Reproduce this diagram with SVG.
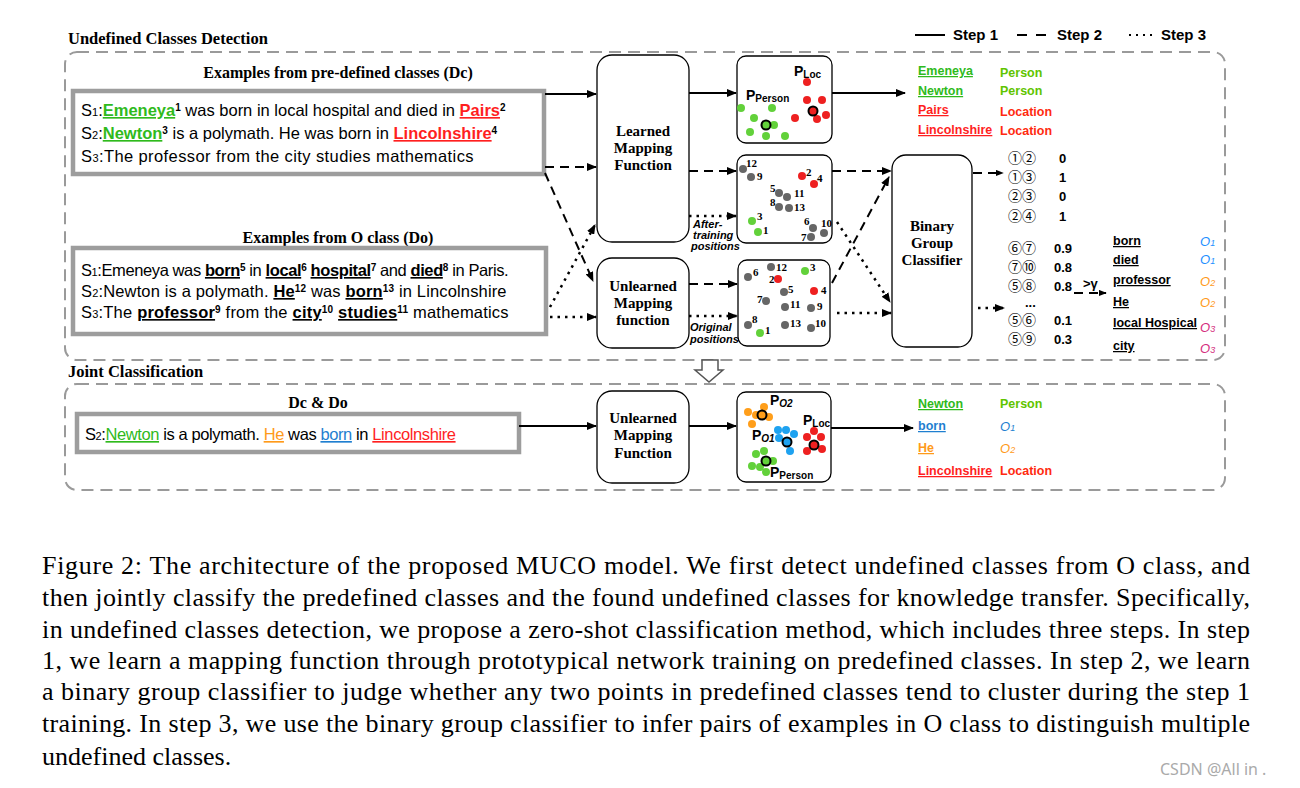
<svg xmlns="http://www.w3.org/2000/svg" width="1300" height="788" viewBox="0 0 1300 788">
<defs>
<marker id="ah" viewBox="0 0 10 8" refX="9" refY="4" markerWidth="10" markerHeight="8" markerUnits="userSpaceOnUse" orient="auto"><path d="M0,0 L10,4 L0,8 z" fill="#000"/></marker>
<marker id="ahs" viewBox="0 0 10 8" refX="9" refY="4" markerWidth="8" markerHeight="7" markerUnits="userSpaceOnUse" orient="auto"><path d="M0,0 L10,4 L0,8 z" fill="#000"/></marker>
</defs>
<style>
.frame{fill:none;stroke:#9a9a9a;stroke-width:2;stroke-dasharray:12 7}
.pencil{fill:#fff;stroke:#9d9d9d;stroke-width:4.5}
.box{fill:#fff;stroke:#000;stroke-width:1.3}
.sec{font-family:"Liberation Serif",serif;font-weight:bold;font-size:16.5px;fill:#000}
.ttl{font-family:"Liberation Serif",serif;font-weight:bold;font-size:16px;fill:#000;text-anchor:middle}
.bx{font-family:"Liberation Serif",serif;font-weight:bold;font-size:15px;fill:#000;text-anchor:middle}
.sent{font-family:"Liberation Sans",sans-serif;font-size:16.5px;fill:#000}
.sub{font-size:11px}
.sup{font-size:10px;font-weight:bold}
.bu{font-weight:bold;text-decoration:underline}
.un{text-decoration:underline}
.gr{fill:#2fba1c}
.rd{fill:#ff1f1f}
.bl{fill:#1f7fd0}
.or{fill:#ff9a1a}
.lst{font-family:"Liberation Sans",sans-serif;font-size:12.5px;font-weight:bold}
.per{fill:#5fc400}
.loc{fill:#ff2a10}
.pair{font-family:"Noto Sans CJK SC","DejaVu Sans",sans-serif;font-size:14px;fill:#000}
.val{font-family:"Liberation Sans",sans-serif;font-size:13px;font-weight:bold;fill:#000}
.wd{font-family:"Liberation Sans",sans-serif;font-size:12.5px;font-weight:bold;fill:#000;text-decoration:underline}
.ol{font-family:"Liberation Sans",sans-serif;font-size:13px;font-style:italic}
.pos{font-family:"Liberation Sans",sans-serif;font-size:11px;font-weight:bold;font-style:italic;fill:#000}
.nm{font-family:"Liberation Serif",serif;font-size:11px;font-weight:bold;fill:#000}
.pl{font-family:"Liberation Sans",sans-serif;font-size:14px;font-weight:bold;fill:#000}
.leg{font-family:"Liberation Sans",sans-serif;font-size:15px;font-weight:bold;fill:#000}
.cap{font-family:"Liberation Serif",serif;font-size:26px;fill:#000}
.g{fill:#62d13a}.r{fill:#ee2020}.k{fill:#666}.o{fill:#ff9e1a}.b{fill:#1ea2f0}
.cen{stroke:#000;stroke-width:2}
.sol{fill:none;stroke:#000;stroke-width:2}
.dsh{fill:none;stroke:#000;stroke-width:2;stroke-dasharray:9 6}
.dot{fill:none;stroke:#000;stroke-width:2.5;stroke-dasharray:2.5 5}
</style>
<rect width="1300" height="788" fill="#fff"/>

<g id="section-detection">
<text class="sec" x="68" y="44">Undefined Classes Detection</text>
<rect class="frame" x="65" y="52" width="1160" height="308" rx="12"/>
</g>

<g id="legend">
<line x1="915" y1="35" x2="945" y2="35" stroke="#000" stroke-width="2"/>
<text class="leg" x="953" y="40">Step 1</text>
<line x1="1017" y1="35" x2="1047" y2="35" stroke="#000" stroke-width="2" stroke-dasharray="10 9"/>
<text class="leg" x="1057" y="40">Step 2</text>
<line x1="1129" y1="35" x2="1156" y2="35" stroke="#000" stroke-width="2" stroke-dasharray="2 5"/>
<text class="leg" x="1161" y="40">Step 3</text>
</g>

<g id="dc-examples">
<text class="ttl" x="338" y="78">Examples from pre-defined classes (Dc)</text>
<rect class="pencil" x="73" y="91" width="471" height="83"/>
<text class="sent" x="81" y="116">S<tspan class="sub">1</tspan>:<tspan class="bu gr">Emeneya</tspan><tspan class="sup" baseline-shift="5">1</tspan> was born in local hospital and died in <tspan class="bu rd">Pairs</tspan><tspan class="sup" baseline-shift="5">2</tspan></text>
<text class="sent" x="81" y="139">S<tspan class="sub">2</tspan>:<tspan class="bu gr">Newton</tspan><tspan class="sup" baseline-shift="5">3</tspan> is a polymath. He was born in <tspan class="bu rd">Lincolnshire</tspan><tspan class="sup" baseline-shift="5">4</tspan></text>
<text class="sent" x="81" y="162" letter-spacing="0.4">S<tspan class="sub">3</tspan>:The professor from the city studies mathematics</text>
</g>

<g id="do-examples">
<text class="ttl" x="338" y="243">Examples from O class (Do)</text>
<rect class="pencil" x="73" y="248" width="473" height="86"/>
<text class="sent" x="81" y="276" letter-spacing="-0.4">S<tspan class="sub">1</tspan>:Emeneya was <tspan class="bu">born</tspan><tspan class="sup" baseline-shift="5">5</tspan> in <tspan class="bu">local</tspan><tspan class="sup" baseline-shift="5">6</tspan>  <tspan class="bu">hospital</tspan><tspan class="sup" baseline-shift="5">7</tspan> and <tspan class="bu">died</tspan><tspan class="sup" baseline-shift="5">8</tspan> in Paris.</text>
<text class="sent" x="81" y="297" letter-spacing="0.15">S<tspan class="sub">2</tspan>:Newton is a polymath. <tspan class="bu">He</tspan><tspan class="sup" baseline-shift="5">12</tspan> was <tspan class="bu">born</tspan><tspan class="sup" baseline-shift="5">13</tspan> in  Lincolnshire</text>
<text class="sent" x="81" y="318" letter-spacing="0.2">S<tspan class="sub">3</tspan>:The <tspan class="bu">professor</tspan><tspan class="sup" baseline-shift="5">9</tspan> from the <tspan class="bu">city</tspan><tspan class="sup" baseline-shift="5">10</tspan> <tspan class="bu">studies</tspan><tspan class="sup" baseline-shift="5">11</tspan> mathematics</text>
</g>

<g id="learned-mapping">
<rect class="box" x="597" y="55" width="92" height="187" rx="15"/>
<text class="bx" x="643" y="136">Learned</text>
<text class="bx" x="643" y="153">Mapping</text>
<text class="bx" x="643" y="170">Function</text>
</g>

<g id="unlearned-mapping">
<rect class="box" x="597" y="258" width="92" height="90" rx="15"/>
<text class="bx" x="643" y="291">Unlearned</text>
<text class="bx" x="643" y="308">Mapping</text>
<text class="bx" x="643" y="325">function</text>
</g>

<g id="scatter-step1">
<rect class="box" x="737" y="56" width="95" height="87" rx="9"/>
<text class="pl" x="794" y="76">P<tspan font-size="10" dy="2">Loc</tspan></text>
<text class="pl" x="746" y="100">P<tspan font-size="10" dy="2">Person</tspan></text>
<circle class="g" cx="741" cy="108" r="4"/><circle class="g" cx="772" cy="108" r="4"/><circle class="g" cx="754" cy="118" r="4"/>
<circle class="g" cx="774" cy="125" r="4"/><circle class="g" cx="750" cy="132" r="4"/><circle class="g" cx="766" cy="136" r="4"/><circle class="g" cx="785" cy="136" r="4"/>
<circle class="g cen" cx="766" cy="125" r="4.5"/>
<circle class="r" cx="807" cy="82" r="4"/><circle class="r" cx="807" cy="100" r="4"/><circle class="r" cx="822" cy="100" r="4"/>
<circle class="r" cx="795" cy="118" r="4"/><circle class="r" cx="826" cy="115" r="4"/><circle class="r" cx="817" cy="119" r="4"/>
<circle class="r cen" cx="813" cy="111" r="4.5"/>
</g>

<g id="scatter-after-training">
<rect class="box" x="737" y="155" width="95" height="88" rx="9"/>
<circle class="k" cx="743" cy="169" r="4"/><text class="nm" x="746" y="167">12</text>
<circle class="k" cx="751" cy="177" r="4"/><text class="nm" x="757" y="180">9</text>
<circle class="r" cx="802" cy="176" r="4"/><text class="nm" x="806" y="176">2</text>
<circle class="r" cx="814" cy="184" r="4"/><text class="nm" x="817" y="182">4</text>
<circle class="k" cx="779" cy="193" r="4"/><text class="nm" x="770" y="192">5</text>
<circle class="k" cx="787" cy="197" r="4"/><text class="nm" x="794" y="197">11</text>
<circle class="k" cx="779" cy="207" r="4"/><text class="nm" x="770" y="206">8</text>
<circle class="k" cx="789" cy="208" r="4"/><text class="nm" x="794" y="211">13</text>
<circle class="g" cx="752" cy="221" r="4"/><text class="nm" x="757" y="220">3</text>
<circle class="g" cx="758" cy="232" r="4"/><text class="nm" x="763" y="234">1</text>
<circle class="k" cx="813" cy="228" r="4"/><text class="nm" x="804" y="225">6</text>
<circle class="k" cx="824" cy="233" r="4"/><text class="nm" x="821" y="227">10</text>
<circle class="k" cx="811" cy="237" r="4"/><text class="nm" x="801" y="241">7</text>
</g>

<g id="scatter-original">
<rect class="box" x="738" y="260" width="92" height="86" rx="9"/>
<circle class="k" cx="748" cy="277" r="4"/><text class="nm" x="753" y="276">6</text>
<circle class="k" cx="771" cy="267" r="4"/><text class="nm" x="776" y="271">12</text>
<circle class="g" cx="805" cy="271" r="4"/><text class="nm" x="810" y="271">3</text>
<circle class="r" cx="778" cy="279" r="4"/><text class="nm" x="769" y="283">2</text>
<circle class="k" cx="784" cy="292" r="4"/><text class="nm" x="788" y="293">5</text>
<circle class="r" cx="814" cy="291" r="4"/><text class="nm" x="821" y="294">4</text>
<circle class="k" cx="766" cy="301" r="4"/><text class="nm" x="757" y="303">7</text>
<circle class="k" cx="785" cy="307" r="4"/><text class="nm" x="790" y="308">11</text>
<circle class="k" cx="811" cy="308" r="4"/><text class="nm" x="817" y="310">9</text>
<circle class="k" cx="748" cy="325" r="4"/><text class="nm" x="752" y="323">8</text>
<circle class="g" cx="760" cy="333" r="4"/><text class="nm" x="765" y="334">1</text>
<circle class="k" cx="785" cy="325" r="4"/><text class="nm" x="790" y="327">13</text>
<circle class="k" cx="811" cy="328" r="4"/><text class="nm" x="815" y="327">10</text>
</g>

<g id="after-training-label">
<text class="pos" x="693" y="228">After-</text>
<text class="pos" x="693" y="239">training</text>
<text class="pos" x="691" y="250">positions</text>
</g>
<g id="original-label">
<text class="pos" x="690" y="331">Original</text>
<text class="pos" x="690" y="343">positions</text>
</g>

<g id="binary-classifier">
<rect class="box" x="892" y="155" width="80" height="192" rx="14"/>
<text class="bx" x="932" y="231">Binary</text>
<text class="bx" x="932" y="248">Group</text>
<text class="bx" x="932" y="265">Classifier</text>
</g>

<g id="step1-result">
<text class="lst" x="918" y="75"><tspan class="gr" text-decoration="underline">Emeneya</tspan></text>
<text class="lst" x="918" y="95"><tspan class="gr" text-decoration="underline">Newton</tspan></text>
<text class="lst" x="918" y="114"><tspan class="rd" text-decoration="underline">Pairs</tspan></text>
<text class="lst" x="918" y="134"><tspan class="rd" text-decoration="underline">Lincolnshire</tspan></text>
<text class="lst per" x="1000" y="77">Person</text>
<text class="lst per" x="1000" y="95">Person</text>
<text class="lst loc" x="1000" y="116">Location</text>
<text class="lst loc" x="1000" y="135">Location</text>
</g>

<g id="pair-scores">
<text class="pair" x="1008" y="163">①②</text><text class="val" x="1059" y="163">0</text>
<text class="pair" x="1008" y="182">①③</text><text class="val" x="1059" y="182">1</text>
<text class="pair" x="1008" y="201">②③</text><text class="val" x="1059" y="201">0</text>
<text class="pair" x="1008" y="221">②④</text><text class="val" x="1059" y="221">1</text>
<text class="pair" x="1008" y="253">⑥⑦</text><text class="val" x="1054" y="253">0.9</text>
<text class="pair" x="1008" y="272">⑦⑩</text><text class="val" x="1054" y="272">0.8</text>
<text class="pair" x="1008" y="291">⑤⑧</text><text class="val" x="1054" y="291">0.8</text>
<text class="val" x="1025" y="307" font-size="8">...</text>
<text class="pair" x="1008" y="325">⑤⑥</text><text class="val" x="1054" y="325">0.1</text>
<text class="pair" x="1008" y="344">⑤⑨</text><text class="val" x="1054" y="344">0.3</text>
<text class="val" x="1083" y="288" font-size="10">&gt;γ</text>
</g>

<g id="undefined-classes">
<text class="wd" x="1113" y="245">born</text><text class="ol" x="1200" y="246" fill="#1e90ff">O<tspan font-size="9">1</tspan></text>
<text class="wd" x="1113" y="264">died</text><text class="ol" x="1200" y="264" fill="#1e90ff">O<tspan font-size="9">1</tspan></text>
<text class="wd" x="1113" y="284">professor</text><text class="ol" x="1200" y="286" fill="#ff9a1a">O<tspan font-size="9">2</tspan></text>
<text class="wd" x="1113" y="306">He</text><text class="ol" x="1200" y="307" fill="#ff9a1a">O<tspan font-size="9">2</tspan></text>
<text class="wd" x="1113" y="327">local Hospical</text><text class="ol" x="1200" y="332" fill="#d42c7e">O<tspan font-size="9">3</tspan></text>
<text class="wd" x="1113" y="350">city</text><text class="ol" x="1200" y="353" fill="#d42c7e">O<tspan font-size="9">3</tspan></text>
</g>

<g id="transition-arrow">
<polygon points="702,360 718,360 718,370 723,370 709,382 695,370 702,370" fill="#fff" stroke="#555" stroke-width="1.5"/>
</g>

<g id="section-joint">
<text class="sec" x="68" y="377">Joint Classification</text>
<rect class="frame" x="65" y="384" width="1160" height="106" rx="12"/>
</g>

<g id="dcdo-example">
<text class="ttl" x="318" y="408">Dc &amp; Do</text>
<rect class="pencil" x="77" y="414" width="442" height="38"/>
<text class="sent" x="85" y="440" letter-spacing="-0.4">S<tspan class="sub">2</tspan>:<tspan class="un gr">Newton</tspan> is a polymath. <tspan class="un or">He</tspan> was <tspan class="un bl">born</tspan> in <tspan class="un rd">Lincolnshire</tspan></text>
</g>

<g id="unlearned-mapping-joint">
<rect class="box" x="597" y="391" width="92" height="92" rx="15"/>
<text class="bx" x="643" y="423">Unlearned</text>
<text class="bx" x="643" y="440">Mapping</text>
<text class="bx" x="643" y="458">Function</text>
</g>

<g id="scatter-joint">
<rect class="box" x="737" y="392" width="94" height="90" rx="9"/>
<text class="pl" x="770" y="405">P<tspan font-size="10" font-style="italic" dy="2">O2</tspan></text>
<text class="pl" x="752" y="440">P<tspan font-size="10" font-style="italic" dy="2">O1</tspan></text>
<text class="pl" x="803" y="425">P<tspan font-size="10" dy="2">Loc</tspan></text>
<text class="pl" x="770" y="477">P<tspan font-size="10" dy="2">Person</tspan></text>
<circle class="o" cx="764" cy="407" r="4"/><circle class="o" cx="748" cy="412" r="4"/><circle class="o" cx="756" cy="415" r="4"/>
<circle class="o" cx="769" cy="417" r="4"/><circle class="o" cx="752" cy="424" r="4"/>
<circle class="o cen" cx="762" cy="415" r="4.5"/>
<circle class="b" cx="778" cy="430" r="4"/><circle class="b" cx="786" cy="430" r="4"/><circle class="b" cx="794" cy="434" r="4"/>
<circle class="b" cx="790" cy="451" r="4"/><circle class="b" cx="779" cy="438" r="4"/>
<circle class="b cen" cx="787" cy="442" r="4.5"/>
<circle class="r" cx="814" cy="431" r="4"/><circle class="r" cx="807" cy="437" r="4"/><circle class="r" cx="821" cy="437" r="4"/>
<circle class="r" cx="807" cy="451" r="4"/><circle class="r" cx="822" cy="449" r="4"/>
<circle class="r cen" cx="814" cy="445" r="4.5"/>
<circle class="g" cx="764" cy="451" r="4"/><circle class="g" cx="756" cy="454" r="4"/><circle class="g" cx="773" cy="461" r="4"/>
<circle class="g" cx="752" cy="466" r="4"/><circle class="g" cx="760" cy="467" r="4"/><circle class="g" cx="766" cy="472" r="4"/>
<circle class="g cen" cx="766" cy="461" r="4.5"/>
</g>

<g id="joint-result">
<text class="lst" x="918" y="408"><tspan class="gr" text-decoration="underline">Newton</tspan></text>
<text class="lst" x="918" y="430"><tspan class="bl" text-decoration="underline">born</tspan></text>
<text class="lst" x="918" y="452"><tspan class="or" text-decoration="underline">He</tspan></text>
<text class="lst" x="918" y="475"><tspan class="rd" text-decoration="underline">Lincolnshire</tspan></text>
<text class="lst per" x="1000" y="408">Person</text>
<text class="ol" x="1000" y="431" fill="#1e7fd0">O<tspan font-size="9">1</tspan></text>
<text class="ol" x="1000" y="453" fill="#ff9a1a">O<tspan font-size="9">2</tspan></text>
<text class="lst loc" x="1000" y="475">Location</text>
</g>

<g id="connectors">
<path class="sol" d="M545,94 H596" marker-end="url(#ah)"/>
<path class="dsh" d="M545,167 H596" marker-end="url(#ah)"/>
<path class="dsh" d="M545,173 L593,281" marker-end="url(#ah)"/>
<path class="dot" d="M550,307 L595,225" marker-end="url(#ah)"/>
<path class="dot" d="M550,317 H596" marker-end="url(#ah)"/>
<path class="sol" d="M689,93 H736" marker-end="url(#ah)"/>
<path class="dsh" d="M689,171 H736" marker-end="url(#ah)"/>
<path class="dot" d="M689,216 H736" marker-end="url(#ah)"/>
<path class="dsh" d="M689,284 H737" marker-end="url(#ah)"/>
<path class="dot" d="M689,316 H737" marker-end="url(#ah)"/>
<path class="sol" d="M832,93 H905" marker-end="url(#ah)"/>
<path class="dsh" d="M832,171 H891" marker-end="url(#ah)"/>
<path class="dsh" d="M832,283 L889,177" marker-end="url(#ah)"/>
<path class="dot" d="M837,222 L890,302" marker-end="url(#ah)"/>
<path class="dot" d="M837,313 H891" marker-end="url(#ah)"/>
<path class="dsh" d="M973,173 H1003" marker-end="url(#ahs)"/>
<path class="dot" d="M978,308 H1004" marker-end="url(#ah)"/>
<path class="dsh" d="M1074,293 H1106" stroke-width="1.5" stroke-dasharray="4 4" marker-end="url(#ahs)"/>
<path class="sol" d="M519,426 H596" marker-end="url(#ah)"/>
<path class="sol" d="M689,426 H736" marker-end="url(#ah)"/>
<path class="sol" d="M831,428 H913" marker-end="url(#ah)"/>
</g>

<g id="caption">
<text class="cap" x="42" y="574" textLength="1208" lengthAdjust="spacing">Figure 2: The architecture of the proposed MUCO model. We first detect undefined classes from O class, and</text>
<text class="cap" x="42" y="606" textLength="1208" lengthAdjust="spacing">then jointly classify the predefined classes and the found undefined classes for knowledge transfer. Specifically,</text>
<text class="cap" x="42" y="638" textLength="1208" lengthAdjust="spacing">in undefined classes detection, we propose a zero-shot classification method, which includes three steps. In step</text>
<text class="cap" x="42" y="669" textLength="1208" lengthAdjust="spacing">1, we learn a mapping function through prototypical network training on predefined classes. In step 2, we learn</text>
<text class="cap" x="42" y="700" textLength="1208" lengthAdjust="spacing">a binary group classifier to judge whether any two points in predefined classes tend to cluster during the step 1</text>
<text class="cap" x="42" y="732" textLength="1208" lengthAdjust="spacing">training. In step 3, we use the binary group classifier to infer pairs of examples in O class to distinguish multiple</text>
<text class="cap" x="42" y="765">undefined classes.</text>
</g>
<g id="watermark">
<text x="1160" y="775" font-family="'Noto Sans','Liberation Sans',sans-serif" font-size="16" fill="#aaa">CSDN @All in .</text>
</g>
</svg>
